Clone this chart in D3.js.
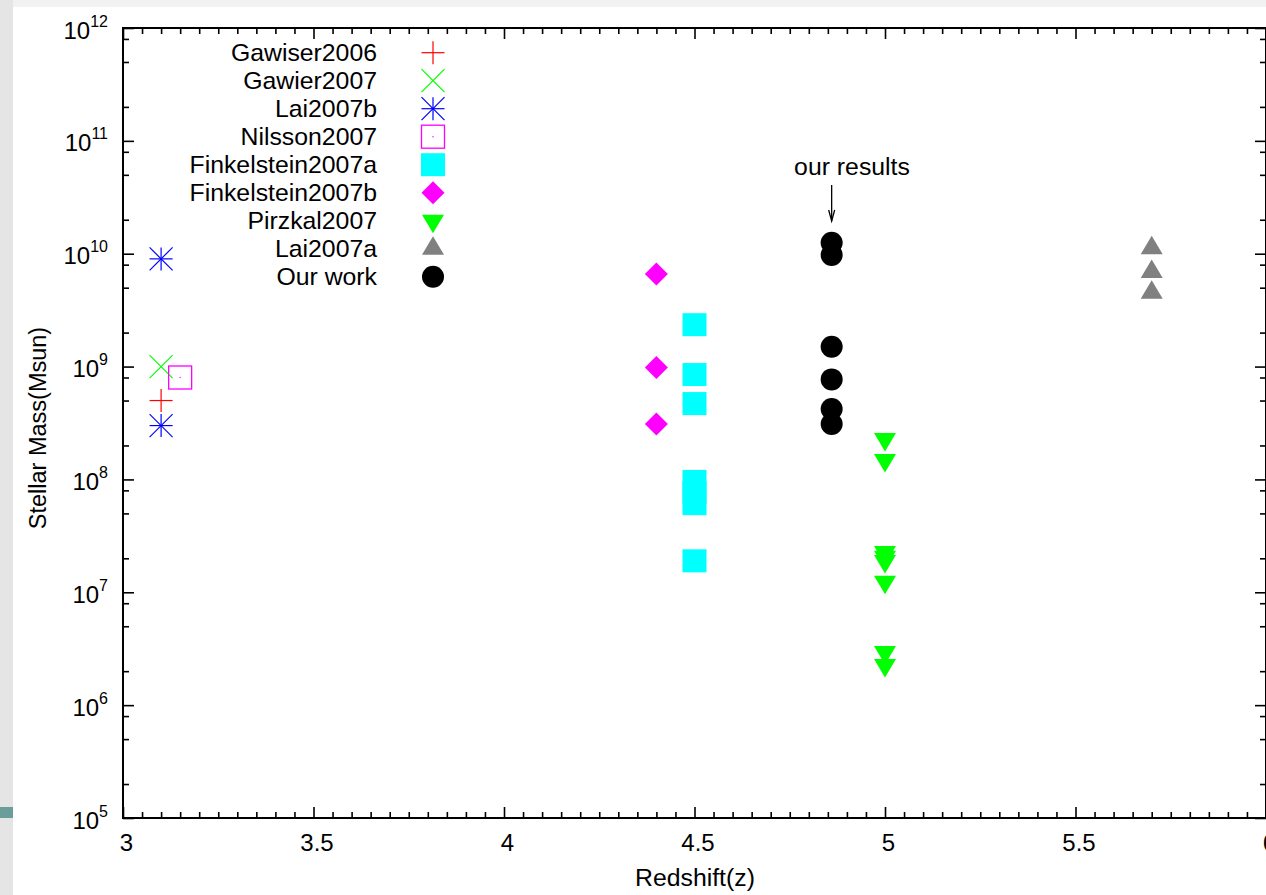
<!DOCTYPE html>
<html>
<head>
<meta charset="utf-8">
<script src="https://cdn.jsdelivr.net/npm/d3@7"></script>
<style>
  html, body { margin: 0; padding: 0; background: #ffffff; }
  svg { display: block; }
  text { font-family: "Liberation Sans", Arial, sans-serif; fill: #000; }
</style>
</head>
<body>
<svg id="chart" width="1266" height="895"></svg>
<script>
// ---------------- DATA ----------------
const seriesNames = ["Gawiser2006", "Gawier2007", "Lai2007b", "Nilsson2007",
  "Finkelstein2007a", "Finkelstein2007b", "Pirzkal2007", "Lai2007a", "Our work"];

const gawiser2006Z = [3.1];
const gawiser2006M = [5e8];
const gawier2007Z = [3.1];
const gawier2007M = [1e9];
const lai2007bZ = [3.1, 3.1];
const lai2007bM = [9e9, 3e8];
const nilsson2007Z = [3.15];
const nilsson2007M = [8e8];
const finkelstein2007aZ = [4.5, 4.5, 4.5, 4.5, 4.5, 4.5, 4.5];
const finkelstein2007aM = [2.35e9, 8.5e8, 4.7e8, 9.6e7, 7.6e7, 6.1e7, 1.9e7];
const finkelstein2007bZ = [4.4, 4.4, 4.4];
const finkelstein2007bM = [6.6e9, 9.8e8, 3.1e8];
const pirzkal2007Z = [5, 5, 5, 5, 5, 5, 5, 5];
const pirzkal2007M = [2.28e8, 1.49e8, 2.27e7, 2.07e7, 1.89e7, 1.24e7, 2.96e6, 2.27e6];
const lai2007aZ = [5.7, 5.7, 5.7];
const lai2007aM = [1.12e10, 6.9e9, 4.5e9];
const ourWorkZ = [4.86, 4.86, 4.86, 4.86, 4.86, 4.86];
const ourWorkM = [1.25e10, 9.75e9, 1.5e9, 7.7e8, 4.2e8, 3.1e8];

const xMajorTicks = [3, 3.5, 4, 4.5, 5, 5.5, 6];
const xTickLabels = ["3", "3.5", "4", "4.5", "5", "5.5", "6"];
const yExponents = [5, 6, 7, 8, 9, 10, 11, 12];
const annotationText = "our results";
const annotationZ = 4.86;
const xTitle = "Redshift(z)";
const yTitle = "Stellar Mass(Msun)";

// ---------------- SETUP ----------------
const svg = d3.select("#chart");
const W = 1266, H = 895;
const pL = 123, pR = 1266, pT = 28, pB = 818;

// slide-like background decorations
svg.append("rect").attr("x", 0).attr("y", 0).attr("width", W).attr("height", 7).attr("fill", "#f2f2f2");
svg.append("rect").attr("x", 0).attr("y", 0).attr("width", 13).attr("height", H).attr("fill", "#e5e5e5");
svg.append("rect").attr("x", 0).attr("y", 807).attr("width", 13).attr("height", 11).attr("fill", "#6b9e9b");

const x = d3.scaleLinear().domain([3, 6]).range([pL, pR]);
const y = d3.scaleLog().domain([1e5, 1e12]).range([pB, pT]);

const xMinor = d3.range(0, 61).map(i => 3 + i * 0.05).filter(v => Math.abs(v * 2 - Math.round(v * 2)) > 1e-6);
const yMajor = yExponents.map(e => Math.pow(10, e));
const yMinor = [];
yExponents.slice(0, -1).forEach(e => [2, 5, 8].forEach(m => yMinor.push(m * Math.pow(10, e))));

const axisG = svg.append("g");
const styleAxis = g => {
  g.select(".domain").remove();
  g.selectAll(".tick line").attr("stroke", "#000").attr("stroke-width", 1.6);
};

// bottom axis
axisG.append("g").attr("transform", `translate(0,${pB})`)
  .call(d3.axisBottom(x).tickValues(xMajorTicks).tickSize(-11).tickPadding(16)
    .tickFormat((d, i) => xTickLabels[i]))
  .call(styleAxis)
  .call(g => g.selectAll("text").attr("font-size", 24).attr("x", 3)
    .style("font-family", '"Liberation Sans", Arial, sans-serif').attr("fill", "#000"));
axisG.append("g").attr("transform", `translate(0,${pB})`)
  .call(d3.axisBottom(x).tickValues(xMinor).tickSize(-6).tickFormat(""))
  .call(styleAxis);
// top axis
axisG.append("g").attr("transform", `translate(0,${pT})`)
  .call(d3.axisTop(x).tickValues(xMajorTicks).tickSize(-11).tickFormat(""))
  .call(styleAxis);
axisG.append("g").attr("transform", `translate(0,${pT})`)
  .call(d3.axisTop(x).tickValues(xMinor).tickSize(-6).tickFormat(""))
  .call(styleAxis);
// left axis
axisG.append("g").attr("transform", `translate(${pL},0)`)
  .call(d3.axisLeft(y).tickValues(yMajor).tickSize(-11).tickPadding(15).tickFormat(""))
  .call(styleAxis)
  .call(g => g.selectAll(".tick text").each(function(d) {
    const t = d3.select(this).attr("font-size", 24).attr("dy", "0.42em")
      .style("font-family", '"Liberation Sans", Arial, sans-serif').attr("fill", "#000");
    t.text(null);
    t.append("tspan").text("10");
    t.append("tspan").attr("dy", -12).attr("font-size", 16).text(String(Math.round(Math.log10(d))));
  }));
axisG.append("g").attr("transform", `translate(${pL},0)`)
  .call(d3.axisLeft(y).tickValues(yMinor).tickSize(-6).tickFormat(""))
  .call(styleAxis);
// right axis
axisG.append("g").attr("transform", `translate(${pR},0)`)
  .call(d3.axisRight(y).tickValues(yMajor).tickSize(-11).tickFormat(""))
  .call(styleAxis);
axisG.append("g").attr("transform", `translate(${pR},0)`)
  .call(d3.axisRight(y).tickValues(yMinor).tickSize(-6).tickFormat(""))
  .call(styleAxis);

// border
svg.append("rect").attr("x", pL).attr("y", pT).attr("width", pR - pL).attr("height", pB - pT)
  .attr("fill", "none").attr("stroke", "#000").attr("stroke-width", 2);

// axis titles
svg.append("text").attr("x", 695).attr("y", 886).attr("text-anchor", "middle")
  .attr("font-size", 24.8).text(xTitle);
svg.append("text").attr("transform", "translate(46,428) rotate(-90)").attr("text-anchor", "middle")
  .attr("font-size", 23.5).text(yTitle);

// ---------------- SYMBOLS ----------------
const S = 11.5; // half size
function drawPlus(g, color) {
  g.append("line").attr("x1", -S).attr("x2", S).attr("y1", 0).attr("y2", 0).attr("stroke", color).attr("stroke-width", 1.2);
  g.append("line").attr("x1", 0).attr("x2", 0).attr("y1", -S).attr("y2", S).attr("stroke", color).attr("stroke-width", 1.2);
}
function drawCross(g, color) {
  g.append("line").attr("x1", -S).attr("x2", S).attr("y1", -S).attr("y2", S).attr("stroke", color).attr("stroke-width", 1.2);
  g.append("line").attr("x1", -S).attr("x2", S).attr("y1", S).attr("y2", -S).attr("stroke", color).attr("stroke-width", 1.2);
}
const symbolDrawers = {
  plus: (g, c) => drawPlus(g, c),
  cross: (g, c) => drawCross(g, c),
  star: (g, c) => { drawPlus(g, c); drawCross(g, c); },
  openSquare: (g, c) => {
    g.append("rect").attr("x", -S).attr("y", -S).attr("width", 2 * S).attr("height", 2 * S)
      .attr("fill", "none").attr("stroke", c).attr("stroke-width", 1.3);
    g.append("rect").attr("x", -0.6).attr("y", -0.6).attr("width", 1.2).attr("height", 1.2).attr("fill", c);
  },
  fillSquare: (g, c) => {
    g.append("rect").attr("x", -12).attr("y", -11.5).attr("width", 24).attr("height", 23).attr("fill", c);
  },
  diamond: (g, c) => {
    g.append("path").attr("d", "M0,-11.5L11.5,0L0,11.5L-11.5,0Z").attr("fill", c);
  },
  triDown: (g, c) => {
    g.append("path").attr("d", "M-11,-6L11,-6L0,12.5Z").attr("fill", c);
  },
  triUp: (g, c) => {
    g.append("path").attr("d", "M-11,6L11,6L0,-12.5Z").attr("fill", c);
  },
  circle: (g, c) => {
    g.append("circle").attr("r", 11).attr("fill", c);
  }
};

const series = [
  { name: seriesNames[0], z: gawiser2006Z, m: gawiser2006M, sym: "plus", color: "#ff0000" },
  { name: seriesNames[1], z: gawier2007Z, m: gawier2007M, sym: "cross", color: "#00ff00" },
  { name: seriesNames[2], z: lai2007bZ, m: lai2007bM, sym: "star", color: "#0000ff" },
  { name: seriesNames[3], z: nilsson2007Z, m: nilsson2007M, sym: "openSquare", color: "#ff00ff" },
  { name: seriesNames[4], z: finkelstein2007aZ, m: finkelstein2007aM, sym: "fillSquare", color: "#00ffff" },
  { name: seriesNames[5], z: finkelstein2007bZ, m: finkelstein2007bM, sym: "diamond", color: "#ff00ff" },
  { name: seriesNames[6], z: pirzkal2007Z, m: pirzkal2007M, sym: "triDown", color: "#00ff00" },
  { name: seriesNames[7], z: lai2007aZ, m: lai2007aM, sym: "triUp", color: "#808080" },
  { name: seriesNames[8], z: ourWorkZ, m: ourWorkM, sym: "circle", color: "#000000" }
];

const plotG = svg.append("g");
series.forEach(s => {
  s.z.forEach((zv, i) => {
    const g = plotG.append("g").attr("transform", `translate(${x(zv)},${y(s.m[i])})`);
    symbolDrawers[s.sym](g, s.color);
  });
});

// legend
const legG = svg.append("g");
series.forEach((s, i) => {
  const ry = 52.7 + i * 28;
  legG.append("text").attr("x", 377).attr("y", ry).attr("dy", "0.35em").attr("text-anchor", "end")
    .attr("font-size", 24.8).text(s.name);
  const g = legG.append("g").attr("transform", `translate(433,${ry})`);
  symbolDrawers[s.sym](g, s.color);
});

// annotation
const ax = x(annotationZ);
svg.append("text").attr("x", 852).attr("y", 175).attr("text-anchor", "middle").attr("font-size", 24.8).text(annotationText);
svg.append("line").attr("x1", ax).attr("x2", ax).attr("y1", 185).attr("y2", 221).attr("stroke", "#000").attr("stroke-width", 1.3);
svg.append("path").attr("d", `M${ax - 3},${210}L${ax},${221}L${ax + 3},${210}`).attr("fill", "none").attr("stroke", "#000").attr("stroke-width", 1.3);
</script>
</body>
</html>
